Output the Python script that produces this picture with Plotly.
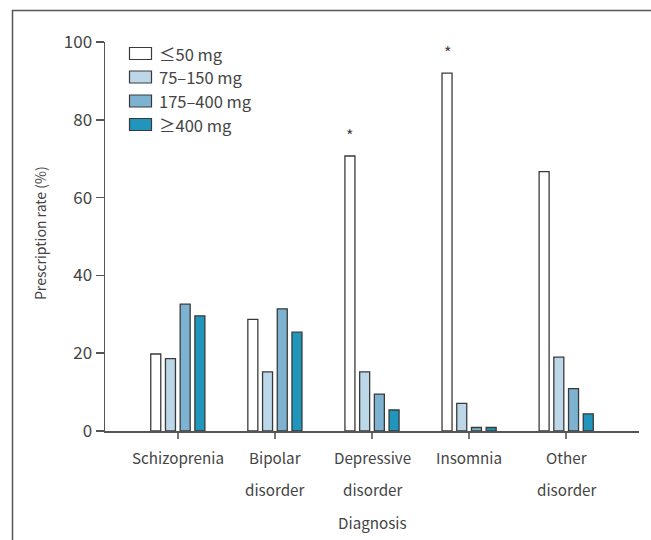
import plotly.graph_objects as go

categories = ["Schizoprenia", "Bipolar disorder", "Depressive disorder", "Insomnia", "Other disorder"]
label_line1 = ["Schizoprenia", "Bipolar", "Depressive", "Insomnia", "Other"]
label_line2 = ["", "disorder", "disorder", "", "disorder"]
series_names = ["≤50 mg", "75–150 mg", "175–400 mg", "≥400 mg"]
le50 = [19.8, 28.7, 70.7, 92.0, 66.7]
d75_150 = [18.6, 15.2, 15.2, 7.1, 19.0]
d175_400 = [32.6, 31.4, 9.5, 0.9, 10.9]
ge400 = [29.6, 25.4, 5.4, 0.9, 4.4]
series_values = [le50, d75_150, d175_400, ge400]
sig_categories = [2, 3]  # indices with significance marker on ≤50 mg
y_ticks = [0, 20, 40, 60, 80, 100]

colors = ["#ffffff", "#bcd7e8", "#7db3d0", "#2196bc"]
line_col = "#3a3a3a"
txt_col = "#444444"
font_family = "Noto Sans CJK KR, Noto Sans, sans-serif"
fs_cat = 15.2
fs_leg = 16.5

W, H = 651, 540
L, R, T, B = 105, 12, 42, 109
PW, PH = W - L - R, H - T - B

def px_x(px):
    return (px - L) / PW

def px_y(py):
    return (H - B - py) / PH

fig = go.Figure()
x_idx = list(range(len(categories)))
for name, vals, col in zip(series_names, series_values, colors):
    fig.add_trace(go.Bar(
        x=x_idx, y=vals, name=name,
        marker=dict(color=col, line=dict(color=line_col, width=1.3)),
        showlegend=False,
    ))

annotations = []
for i, (a, b) in enumerate(zip(label_line1, label_line2)):
    annotations.append(dict(x=i, y=0, xref="x", yref="paper", text=a, showarrow=False,
                            xanchor="center", yanchor="middle", yshift=-26,
                            font=dict(size=fs_cat, color=txt_col, family=font_family)))
    if b:
        annotations.append(dict(x=i, y=0, xref="x", yref="paper", text=b, showarrow=False,
                                xanchor="center", yanchor="middle", yshift=-58,
                                font=dict(size=fs_cat, color=txt_col, family=font_family)))
annotations.append(dict(x=0.5, y=0, xref="paper", yref="paper", text="Diagnosis", showarrow=False,
                        xanchor="center", yanchor="middle", yshift=-91,
                        font=dict(size=fs_cat, color=txt_col, family=font_family)))
annotations.append(dict(x=px_x(40), y=px_y(233), xref="paper", yref="paper", text="Prescription rate (%)",
                        showarrow=False, textangle=-90, xanchor="center", yanchor="middle",
                        font=dict(size=14, color=txt_col, family=font_family)))
n = len(series_names)
bargap = 0.394
slot = (1 - bargap) / n
first_off = -(1 - bargap) / 2 + slot / 2
for ci in sig_categories:
    annotations.append(dict(x=ci + first_off, y=le50[ci], xref="x", yref="y", text="*", showarrow=False,
                            xanchor="center", yanchor="bottom", yshift=7,
                            font=dict(size=16, color=txt_col, family=font_family)))

shapes = []
legend_rows = [53.5, 77, 101, 124.5]
for name, col, yc in zip(series_names, colors, legend_rows):
    shapes.append(dict(type="rect", xref="paper", yref="paper",
                       x0=px_x(129.5), x1=px_x(151.5), y0=px_y(yc - 6), y1=px_y(yc + 6),
                       fillcolor=col, line=dict(color=line_col, width=1.2)))
    annotations.append(dict(x=px_x(157), y=px_y(yc), xref="paper", yref="paper", text=name, showarrow=False,
                            xanchor="left", yanchor="middle",
                            font=dict(size=fs_leg, color=txt_col, family=font_family)))
frame_col = "#555555"
fx0, fy0, fx1, fy1 = px_x(12.5), px_y(10.5), px_x(W), px_y(H)
shapes.append(dict(type="path", xref="paper", yref="paper",
                   path=f"M {fx0},{fy1} L {fx0},{fy0} L {fx1},{fy0}",
                   line=dict(color=frame_col, width=1.5), fillcolor="rgba(0,0,0,0)"))
shapes.append(dict(type="line", xref="paper", yref="paper", x0=px_x(97), x1=px_x(105),
                   y0=0, y1=0, line=dict(color="#555555", width=1.5)))

fig.update_layout(
    width=W, height=H,
    margin=dict(l=L, r=R, t=T, b=B, pad=0),
    plot_bgcolor="rgba(0,0,0,0)", paper_bgcolor="white",
    barmode="group", bargap=bargap, bargroupgap=0.32,
    font=dict(family=font_family, color=txt_col, size=fs_cat),
    showlegend=False,
    annotations=annotations, shapes=shapes,
    xaxis=dict(range=[-0.75, 4.75], showgrid=False, zeroline=False,
               showline=True, linecolor="#555555", linewidth=1.5,
               ticks="outside", ticklen=6, tickcolor="#777777", tickwidth=1.5,
               tickvals=x_idx, showticklabels=False, fixedrange=True),
    yaxis=dict(range=[0, 100], showgrid=False, zeroline=False,
               showline=True, linecolor="#555555", linewidth=1.5,
               ticks="outside", ticklen=8, tickcolor="#555555", tickwidth=1.5,
               tickvals=y_ticks, ticktext=[str(v) for v in y_ticks],
               tickfont=dict(size=17, color=txt_col, family=font_family), fixedrange=True),
)

fig.write_html("out.html", config={"displayModeBar": False, "staticPlot": True},
               post_script=("document.body.style.margin='0';"
                            "document.body.style.overflow='hidden';"
                            "document.documentElement.style.overflow='hidden';"))
